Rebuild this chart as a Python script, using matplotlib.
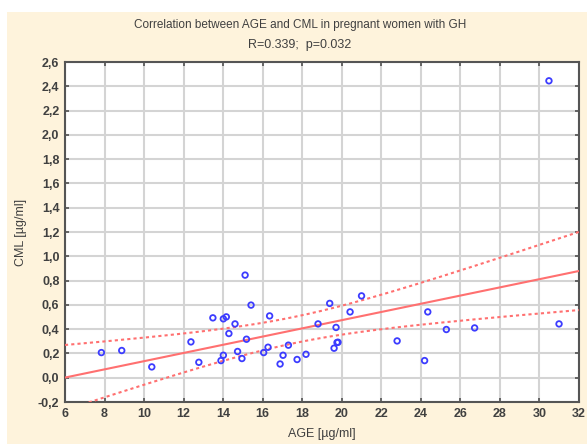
import matplotlib
matplotlib.use("Agg")
import matplotlib.pyplot as plt
import numpy as np
from matplotlib.patches import Rectangle

# AGE vs CML readings
age = [7.84, 8.87, 10.39, 12.37, 12.77, 13.48, 13.89, 14.01, 14.01, 14.16,
       14.29, 14.60, 14.73, 14.95, 15.11, 15.18, 15.41, 16.05, 16.27, 16.35,
       16.88, 17.03, 17.30, 17.74, 18.19, 18.80, 19.39, 19.61, 19.71, 19.76,
       19.81, 20.42, 21.00, 22.80, 24.19, 24.35, 25.29, 26.72, 30.48, 30.99]
cml = [0.207, 0.224, 0.089, 0.295, 0.127, 0.493, 0.141, 0.185, 0.485, 0.501,
       0.364, 0.443, 0.216, 0.158, 0.845, 0.317, 0.598, 0.207, 0.251, 0.509,
       0.113, 0.185, 0.268, 0.150, 0.193, 0.443, 0.612, 0.243, 0.414, 0.290,
       0.292, 0.542, 0.674, 0.303, 0.141, 0.542, 0.397, 0.410, 2.445, 0.443]

xticks = list(range(6, 33, 2))
yticks = [round(-0.2 + 0.2 * i, 1) for i in range(15)]

x = np.array(age)
y = np.array(cml)
n = len(x)
b, a = np.polyfit(x, y, 1)
resid = y - (a + b * x)
s = np.sqrt(np.sum(resid ** 2) / (n - 2))
t = 2.024  # t(0.975, 38)
xs = np.linspace(6, 32, 200)
fit = a + b * xs
se = s * np.sqrt(1.0 / n + (xs - x.mean()) ** 2 / np.sum((x - x.mean()) ** 2))

plt.rcParams['font.family'] = ['Liberation Sans', 'DejaVu Sans']

fig = plt.figure(figsize=(5.87, 4.44), dpi=100)
fig.patch.set_facecolor('white')
fig.patches.append(Rectangle((7 / 587, 0), 1, 1 - 12 / 444, transform=fig.transFigure,
                             facecolor='#fef3dc', edgecolor='none', zorder=-10))

ax = fig.add_axes([65 / 587, 1 - 402 / 444, (579 - 65) / 587, (402 - 62) / 444])
ax.set_facecolor('white')

ax.plot(xs, fit, color='#ff7070', lw=1.5, zorder=3)
ax.plot(xs, fit + t * se, color='#ff7070', lw=1.5, ls=(0, (1.5, 1.5)), zorder=3)
ax.plot(xs, fit - t * se, color='#ff7070', lw=1.5, ls=(0, (1.5, 1.5)), zorder=3)
ax.scatter(x, y, s=16, facecolors='none', edgecolors='#3c3cff', linewidths=1.3, zorder=4)

ax.set_xlim(6, 32)
ax.set_ylim(-0.2, 2.6)
ax.set_xticks(xticks)
ax.set_yticks(yticks)
ax.set_xticklabels([str(v) for v in xticks])
ax.set_yticklabels([f"{v:.1f}".replace('.', ',') for v in yticks])
ax.grid(True, color='#d4d4d4', lw=1.5)
ax.set_axisbelow(True)
ax.tick_params(direction='in', length=3, width=1.2, color='#505050',
               top=True, right=True, labelsize=9, labelcolor='#404040', pad=4)
for lab in ax.get_xticklabels() + ax.get_yticklabels():
    lab.set_fontweight('bold')
for sp in ax.spines.values():
    sp.set_color('#555555')
    sp.set_linewidth(1.5)

ax.set_xlabel('AGE [µg/ml]', fontsize=9, color='#404040', labelpad=6)
ax.set_ylabel('CML [µg/ml]', fontsize=9, color='#404040', labelpad=8)

fig.text(300 / 587, 1 - 25 / 444, 'Correlation between AGE and CML in pregnant women with GH',
         ha='center', va='center', fontsize=8.5, color='#404040')
fig.text(300 / 587, 1 - 45 / 444, 'R=0.339;  p=0.032',
         ha='center', va='center', fontsize=9, color='#404040')

fig.savefig('out.png', dpi=100)
